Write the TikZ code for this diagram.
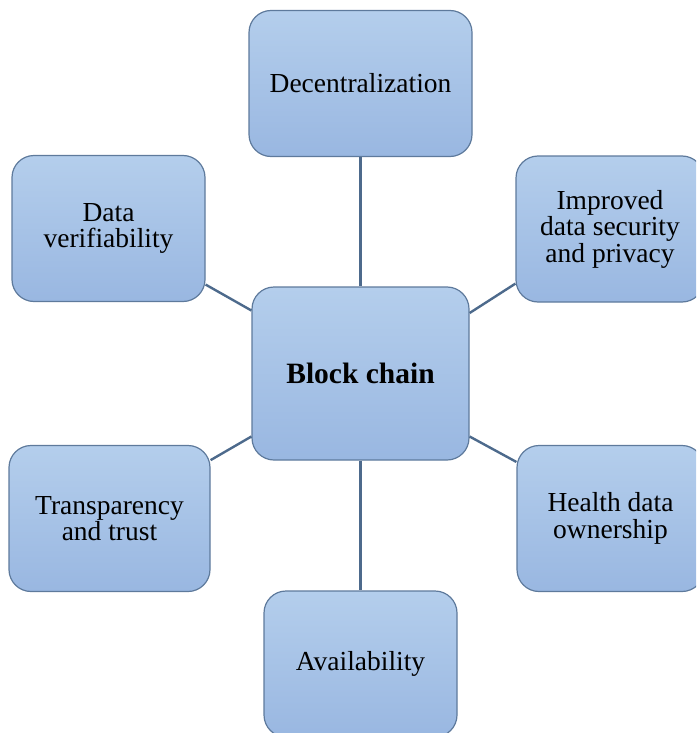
\documentclass[tikz,border=0pt]{standalone}
\usepackage{fontspec}
\setmainfont{Liberation Serif}
\newcommand{\boxfont}{\fontsize{27.5}{26.5}\selectfont}
\newcommand{\hubfont}{\fontsize{29.5}{29.5}\selectfont\bfseries}
\definecolor{boxtop}{HTML}{B4CEEC}
\definecolor{boxbot}{HTML}{99B7E1}
\definecolor{boxline}{HTML}{5E7A9C}
\definecolor{linkline}{HTML}{4D6A8C}
\begin{document}
\begin{tikzpicture}[x=1pt,y=-1pt,
    feature/.style={draw=boxline,line width=1.2pt,rounded corners=22pt,
        top color=boxtop,bottom color=boxbot,align=center,font=\boxfont,
        minimum width=#1,minimum height=146pt,inner sep=0pt},
    link/.style={draw=linkline,line width=2.4pt}]
    \useasboundingbox (0,0) rectangle (696,733);
    \clip (0,0) rectangle (696,733);
    \node[feature=223pt] (dec) at (360.5,83.5){Decentralization};
    \node[feature=193pt] (ver) at (108.5,228.5){Data\\verifiability};
    \node[feature=188pt] (imp) at (610,229){Improved\\data security\\and privacy};
    \node[feature=201pt] (tra) at (109.5,518.5){Transparency\\and trust};
    \node[feature=187pt] (hea) at (610.5,518.5){Health data\\ownership};
    \node[feature=193pt] (ava) at (360.5,664){Availability};
    \node[feature=217pt,minimum height=173pt,font=\hubfont] (bc) at (360.5,373.5){Block chain};
    \draw[link] (dec) -- (bc);
    \draw[link] (bc) -- (ava);
    \draw[link] (ver.-30) -- (bc.150.5);
    \draw[link] (imp.210) -- (bc.29.5);
    \draw[link] (tra.30) -- (bc.210);
    \draw[link] (hea.149) -- (bc.-30);
\end{tikzpicture}
\end{document}
